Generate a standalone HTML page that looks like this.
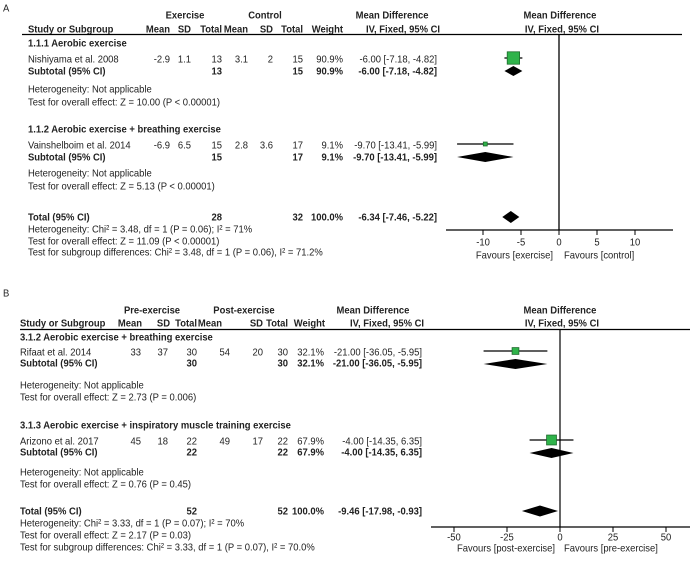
<!DOCTYPE html>
<html><head><meta charset="utf-8">
<style>
html,body{margin:0;padding:0;background:#fff;}
svg{display:block;}
text{font-family:"Liberation Sans",Arial,sans-serif;font-size:10.5px;fill:#222;}
.b{font-weight:bold;}
</style></head>
<body>
<svg id="fp" width="698" height="562" viewBox="0 0 698 562">
  <g id="txt" transform="scale(0.9,1)"></g>
  <g id="marks"></g>
</svg>
<script>
// ---------- Panel A data ----------
const studiesA = ["Nishiyama et al. 2008", "Vainshelboim et al. 2014"];
const mdA = [-6.00, -9.70];
const lowA = [-7.18, -13.41];
const highA = [-4.82, -5.99];
const weightA = [90.9, 9.1];
const subMdA = [-6.00, -9.70];
const subLowA = [-7.18, -13.41];
const subHighA = [-4.82, -5.99];
const totalA = [-6.34, -7.46, -5.22];
const ticksA = [-10, -5, 0, 5, 10];
const tickLabelsA = ["-10", "-5", "0", "5", "10"];
// ---------- Panel B data ----------
const studiesB = ["Rifaat et al. 2014", "Arizono et al. 2017"];
const mdB = [-21.00, -4.00];
const lowB = [-36.05, -14.35];
const highB = [-5.95, 6.35];
const weightB = [32.1, 67.9];
const subMdB = [-21.00, -4.00];
const subLowB = [-36.05, -14.35];
const subHighB = [-5.95, 6.35];
const totalB = [-9.46, -17.98, -0.93];
const ticksB = [-50, -25, 0, 25, 50];
const tickLabelsB = ["-50", "-25", "0", "25", "50"];

const ns = "http://www.w3.org/2000/svg";
const SX = 0.9;
const T = document.getElementById('txt');
const M = document.getElementById('marks');

function txt(x, y, s, anchor, bold, name) {
  const e = document.createElementNS(ns, 'text');
  e.setAttribute('x', (x / SX).toFixed(1));
  e.setAttribute('y', (y + 3.7).toFixed(1));
  if (anchor) e.setAttribute('text-anchor', anchor);
  if (bold) e.setAttribute('class', 'b');
  e.textContent = s;
  
  
  T.appendChild(e);
}
function el(tag, attrs, name) {
  const e = document.createElementNS(ns, tag);
  for (const k in attrs) e.setAttribute(k, attrs[k]);
  
  
  M.appendChild(e);
  return e;
}
function diamond(sx, lo, mid, hi, y, h, name) {
  el('polygon', {points: `${sx(lo)},${y} ${sx(mid)},${y-h/2} ${sx(hi)},${y} ${sx(mid)},${y+h/2}`, fill: '#000'}, name);
}
function study(sx, lo, mid, hi, w, y, k, name) {
  el('line', {x1: sx(lo), y1: y, x2: sx(hi), y2: y, stroke: '#000', 'stroke-width': 1.2}, name + '-ci');
  const s = Math.sqrt(w) * k;
  el('rect', {x: sx(mid) - s/2, y: y - s/2, width: s, height: s, fill: '#2fb34a', stroke: '#1d6b2c', 'stroke-width': 0.8}, name + '-square');
}
const f2 = v => v.toFixed(2);

// ================= PANEL A =================
const x0A = 559, kA = 7.6;
const sxA = v => x0A + v * kA;
txt(3, 8, "A", null, false, 'panel-a-label');
txt(185, 15, "Exercise", 'middle', true, 'a-exercise-group-header');
txt(265, 15, "Control", 'middle', true, 'a-control-group-header');
txt(392, 15, "Mean Difference", 'middle', true, 'a-md-header');
txt(560, 15, "Mean Difference", 'middle', true, 'a-plot-header');
txt(28, 29, "Study or Subgroup", null, true, 'a-study-col-header');
[["Mean",170],["SD",191],["Total",222],["Mean",248],["SD",273],["Total",303],["Weight",343]].forEach((c,i)=>txt(c[1],29,c[0],'end',true,'a-col-header'));
txt(403, 29, "IV, Fixed, 95% CI", 'middle', true, 'a-md-method-header');
txt(562, 29, "IV, Fixed, 95% CI", 'middle', true, 'a-plot-method-header');
el('line', {x1: 22, y1: 34.5, x2: 682, y2: 34.5, stroke: '#000', 'stroke-width': 1.3}, 'a-header-rule');

const rowsA = [
  {title: "1.1.1 Aerobic exercise", ty: 43, sy: 59, uy: 71, hy: 89, zy: 102,
   vals: ["-2.9","1.1","13","3.1","2","15","90.9%"], tots: ["13","15","90.9%"], z: "Test for overall effect: Z = 10.00 (P < 0.00001)"},
  {title: "1.1.2 Aerobic exercise + breathing exercise", ty: 129, sy: 145, uy: 157, hy: 173, zy: 186,
   vals: ["-6.9","6.5","15","2.8","3.6","17","9.1%"], tots: ["15","17","9.1%"], z: "Test for overall effect: Z = 5.13 (P < 0.00001)"}
];
const colA = [170,191,222,248,273,303,343];
rowsA.forEach((r,i) => {
  txt(28, r.ty, r.title, null, true, 'a-subgroup-title');
  txt(28, r.sy, studiesA[i], null, false, 'a-study-name');
  r.vals.forEach((v,j)=>txt(colA[j], r.sy, v, 'end', false, 'a-study-value'));
  txt(437, r.sy, `${f2(mdA[i])} [${f2(lowA[i])}, ${f2(highA[i])}]`, 'end', false, 'a-study-md');
  txt(28, r.uy, "Subtotal (95% CI)", null, true, 'a-subtotal-label');
  txt(222, r.uy, r.tots[0], 'end', true, 'a-subtotal-n1');
  txt(303, r.uy, r.tots[1], 'end', true, 'a-subtotal-n2');
  txt(343, r.uy, r.tots[2], 'end', true, 'a-subtotal-weight');
  txt(437, r.uy, `${f2(subMdA[i])} [${f2(subLowA[i])}, ${f2(subHighA[i])}]`, 'end', true, 'a-subtotal-md');
  txt(28, r.hy, "Heterogeneity: Not applicable", null, false, 'a-heterogeneity');
  txt(28, r.zy, r.z, null, false, 'a-overall-effect');
  study(sxA, lowA[i], mdA[i], highA[i], weightA[i], r.sy - 1, 1.3, 'a-study-' + i);
  diamond(sxA, subLowA[i], subMdA[i], subHighA[i], r.uy, 10, 'a-subtotal-diamond-' + i);
});
txt(28, 217, "Total (95% CI)", null, true, 'a-total-label');
txt(222, 217, "28", 'end', true, 'a-total-n1');
txt(303, 217, "32", 'end', true, 'a-total-n2');
txt(343, 217, "100.0%", 'end', true, 'a-total-weight');
txt(437, 217, `${f2(totalA[0])} [${f2(totalA[1])}, ${f2(totalA[2])}]`, 'end', true, 'a-total-md');
txt(28, 229, "Heterogeneity: Chi² = 3.48, df = 1 (P = 0.06); I² = 71%", null, false, 'a-total-heterogeneity');
txt(28, 241, "Test for overall effect: Z = 11.09 (P < 0.00001)", null, false, 'a-total-effect');
txt(28, 252, "Test for subgroup differences: Chi² = 3.48, df = 1 (P = 0.06), I² = 71.2%", null, false, 'a-subgroup-differences');
diamond(sxA, totalA[1], totalA[0], totalA[2], 217, 12, 'a-total-diamond');
el('line', {x1: x0A, y1: 34, x2: x0A, y2: 230, stroke: '#000', 'stroke-width': 1.3}, 'a-null-line');
el('line', {x1: 446, y1: 230, x2: 673, y2: 230, stroke: '#000', 'stroke-width': 1.3}, 'a-x-axis');
ticksA.forEach((t,i) => {
  el('line', {x1: sxA(t), y1: 230, x2: sxA(t), y2: 235, stroke: '#000', 'stroke-width': 1}, 'a-x-tick');
  txt(sxA(t), 242, tickLabelsA[i], 'middle', false, 'a-x-tick-label');
});
txt(553, 255, "Favours [exercise]", 'end', false, 'a-favours-left');
txt(564, 255, "Favours [control]", null, false, 'a-favours-right');

// ================= PANEL B =================
const x0B = 560, kB = 2.12;
const sxB = v => x0B + v * kB;
txt(3, 293, "B", null, false, 'panel-b-label');
txt(152, 310, "Pre-exercise", 'middle', true, 'b-pre-group-header');
txt(244, 310, "Post-exercise", 'middle', true, 'b-post-group-header');
txt(373, 310, "Mean Difference", 'middle', true, 'b-md-header');
txt(560, 310, "Mean Difference", 'middle', true, 'b-plot-header');
txt(20, 323, "Study or Subgroup", null, true, 'b-study-col-header');
const colB = [142,170,197,222,263,288,325];
["Mean","SD","Total","Mean","SD","Total","Weight"].forEach((c,i)=>txt(colB[i],323,c,'end',true,'b-col-header'));
txt(387, 323, "IV, Fixed, 95% CI", 'middle', true, 'b-md-method-header');
txt(562, 323, "IV, Fixed, 95% CI", 'middle', true, 'b-plot-method-header');
el('line', {x1: 20, y1: 329.5, x2: 690, y2: 329.5, stroke: '#000', 'stroke-width': 1.3}, 'b-header-rule');

const rowsB = [
  {title: "3.1.2 Aerobic exercise + breathing exercise", ty: 337, sy: 352, uy: 363, hy: 385, zy: 397,
   vals: ["33","37","30","54","20","30","32.1%"], tots: ["30","30","32.1%"], z: "Test for overall effect: Z = 2.73 (P = 0.006)"},
  {title: "3.1.3 Aerobic exercise + inspiratory muscle training exercise", ty: 425, sy: 441, uy: 452, hy: 472, zy: 484,
   vals: ["45","18","22","49","17","22","67.9%"], tots: ["22","22","67.9%"], z: "Test for overall effect: Z = 0.76 (P = 0.45)"}
];
const colBv = [141,168,197,230,263,288,324];
rowsB.forEach((r,i) => {
  txt(20, r.ty, r.title, null, true, 'b-subgroup-title');
  txt(20, r.sy, studiesB[i], null, false, 'b-study-name');
  r.vals.forEach((v,j)=>txt(colBv[j], r.sy, v, 'end', false, 'b-study-value'));
  txt(422, r.sy, `${f2(mdB[i])} [${f2(lowB[i])}, ${f2(highB[i])}]`, 'end', false, 'b-study-md');
  txt(20, r.uy, "Subtotal (95% CI)", null, true, 'b-subtotal-label');
  txt(197, r.uy, r.tots[0], 'end', true, 'b-subtotal-n1');
  txt(288, r.uy, r.tots[1], 'end', true, 'b-subtotal-n2');
  txt(324, r.uy, r.tots[2], 'end', true, 'b-subtotal-weight');
  txt(422, r.uy, `${f2(subMdB[i])} [${f2(subLowB[i])}, ${f2(subHighB[i])}]`, 'end', true, 'b-subtotal-md');
  txt(20, r.hy, "Heterogeneity: Not applicable", null, false, 'b-heterogeneity');
  txt(20, r.zy, r.z, null, false, 'b-overall-effect');
  study(sxB, lowB[i], mdB[i], highB[i], weightB[i], r.sy - 1, 1.2, 'b-study-' + i);
  diamond(sxB, subLowB[i], subMdB[i], subHighB[i], r.uy + 1, 10, 'b-subtotal-diamond-' + i);
});
txt(20, 511, "Total (95% CI)", null, true, 'b-total-label');
txt(197, 511, "52", 'end', true, 'b-total-n1');
txt(288, 511, "52", 'end', true, 'b-total-n2');
txt(324, 511, "100.0%", 'end', true, 'b-total-weight');
txt(422, 511, `${f2(totalB[0])} [${f2(totalB[1])}, ${f2(totalB[2])}]`, 'end', true, 'b-total-md');
txt(20, 523, "Heterogeneity: Chi² = 3.33, df = 1 (P = 0.07); I² = 70%", null, false, 'b-total-heterogeneity');
txt(20, 535, "Test for overall effect: Z = 2.17 (P = 0.03)", null, false, 'b-total-effect');
txt(20, 547, "Test for subgroup differences: Chi² = 3.33, df = 1 (P = 0.07), I² = 70.0%", null, false, 'b-subgroup-differences');
diamond(sxB, totalB[1], totalB[0], totalB[2], 511, 11, 'b-total-diamond');
el('line', {x1: x0B, y1: 329, x2: x0B, y2: 527, stroke: '#000', 'stroke-width': 1.2}, 'b-null-line');
el('line', {x1: 431, y1: 527, x2: 690, y2: 527, stroke: '#000', 'stroke-width': 1.2}, 'b-x-axis');
ticksB.forEach((t,i) => {
  el('line', {x1: sxB(t), y1: 527, x2: sxB(t), y2: 532, stroke: '#000', 'stroke-width': 1}, 'b-x-tick');
  txt(sxB(t), 537, tickLabelsB[i], 'middle', false, 'b-x-tick-label');
});
txt(555, 548, "Favours [post-exercise]", 'end', false, 'b-favours-left');
txt(564, 548, "Favours [pre-exercise]", null, false, 'b-favours-right');
</script>
</body></html>
